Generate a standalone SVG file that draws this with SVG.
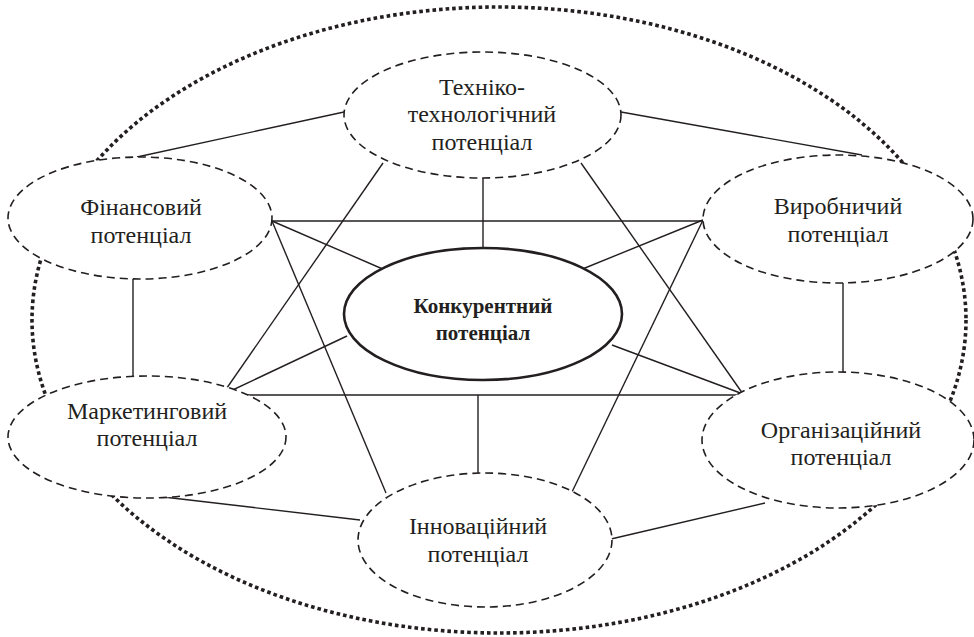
<svg xmlns="http://www.w3.org/2000/svg" width="974" height="637" viewBox="0 0 974 637">
<style>
.outer{fill:none;stroke:#231f20;stroke-width:3.6;stroke-dasharray:3.6 3}
.node{fill:#fff;stroke:#231f20;stroke-width:1.6;stroke-dasharray:8 5}
.core{fill:#fff;stroke:#231f20;stroke-width:2.6}
.conn line{stroke:#231f20;stroke-width:1.4;fill:none}
text{font-family:'Liberation Serif','DejaVu Serif',serif;font-size:24px;fill:#231f20;text-anchor:middle}
.b{font-weight:bold;font-size:21px}
</style>
<rect width="974" height="637" fill="#fff"/>
<ellipse class="outer" cx="499" cy="320" rx="467" ry="313"/>
<g id="connectors" class="conn">
<line x1="483" y1="178" x2="483" y2="248"/>
<line x1="383" y1="163" x2="222" y2="395"/>
<line x1="581" y1="163" x2="743" y2="394"/>
<line x1="344" y1="112" x2="137" y2="157"/>
<line x1="621" y1="112" x2="862" y2="155"/>
<line x1="133" y1="279" x2="133" y2="376"/>
<line x1="843" y1="283" x2="843" y2="372"/>
<line x1="155" y1="496" x2="360" y2="520"/>
<line x1="611" y1="539" x2="765" y2="503"/>
<line x1="272" y1="221" x2="703" y2="221"/>
<line x1="222" y1="395" x2="743" y2="395"/>
<line x1="272" y1="221" x2="385" y2="270"/>
<line x1="272" y1="221" x2="386" y2="493"/>
<line x1="703" y1="220" x2="580" y2="270"/>
<line x1="703" y1="220" x2="572" y2="492"/>
<line x1="222" y1="395" x2="347" y2="336"/>
<line x1="743" y1="394" x2="612" y2="345"/>
<line x1="478" y1="395" x2="478" y2="473"/>
</g>
<g id="tech">
<ellipse class="node" cx="482.5" cy="115" rx="138.5" ry="63"/>
<text x="482" y="95">Техніко-</text>
<text x="482" y="122">технологічний</text>
<text x="482" y="150">потенціал</text>
</g>
<g id="fin">
<ellipse class="node" cx="140" cy="218" rx="132" ry="61"/>
<text x="141" y="215">Фінансовий</text>
<text x="141" y="243">потенціал</text>
</g>
<g id="vyr">
<ellipse class="node" cx="838" cy="219" rx="135" ry="64"/>
<text x="838" y="214">Виробничий</text>
<text x="838" y="242">потенціал</text>
</g>
<g id="market">
<ellipse class="node" cx="147" cy="437" rx="139" ry="61"/>
<text x="147" y="419">Маркетинговий</text>
<text x="147" y="446">потенціал</text>
</g>
<g id="org">
<ellipse class="node" cx="838" cy="440" rx="136" ry="68"/>
<text x="841" y="438">Організаційний</text>
<text x="841" y="465">потенціал</text>
</g>
<g id="innov">
<ellipse class="node" cx="485" cy="540" rx="127" ry="67"/>
<text x="478" y="534">Інноваційний</text>
<text x="478" y="562">потенціал</text>
</g>
<g id="core">
<ellipse class="core" cx="483" cy="314" rx="139" ry="66"/>
<text class="b" x="483" y="313">Конкурентний</text>
<text class="b" x="483" y="340">потенціал</text>
</g>
</svg>
